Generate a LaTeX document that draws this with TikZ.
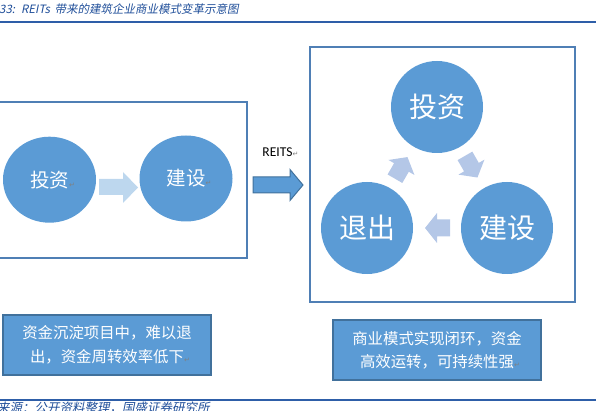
\documentclass[tikz,border=0pt]{standalone}
\usepackage{fontspec}
\setmainfont{Liberation Sans}
\newfontfamily\cjk{Noto Sans CJK SC}
\newfontfamily\cjkit{Noto Sans CJK SC}[FakeSlant=0.2]
\newfontfamily\lat{Carlito}
\newfontfamily\sym{DejaVu Sans}
\usetikzlibrary{shapes.geometric}
\definecolor{circblue}{HTML}{5B9BD5}
\definecolor{darkedge}{HTML}{41719C}
\definecolor{framecol}{HTML}{4F7FB5}
\definecolor{lightarr}{HTML}{BDD7EE}
\definecolor{cycarr}{HTML}{B4C7E7}
\definecolor{titleblue}{HTML}{1F4E99}
\definecolor{rulecol}{HTML}{2E5EA8}
\newcommand{\pmark}{\rlap{\sym\fontsize{7}{7}\selectfont\color{gray}↵}}
\tikzset{
  smallcirc/.style={ellipse, fill=circblue, inner sep=0pt, minimum width=93pt, minimum height=86pt,
    text=white, font=\cjk\fontsize{19.5}{20}\selectfont},
  bigcirc/.style={circle, fill=circblue, inner sep=0pt, minimum size=92pt,
    text=white, font=\cjk\fontsize{28}{30}\selectfont},
  framebox/.style={draw=framecol, line width=2pt},
  notebox/.style={rectangle, fill=circblue, draw=darkedge, line width=1.5pt, inner sep=0pt,
    minimum width=208pt, minimum height=60pt, text=white, align=center},
  cycarrow/.pic={\fill[cycarr] (-12.5,-8.5) -- (0.5,-8.5) -- (0.5,-15) -- (12.5,0) -- (0.5,15) -- (0.5,8.5) -- (-12.5,8.5) -- cycle;}
}
\begin{document}
\begin{tikzpicture}[x=1pt,y=1pt]
\useasboundingbox (0,0) rectangle (596,-411);
% header
\node[anchor=west, inner sep=0pt, text=titleblue, font=\cjkit\fontsize{11.5}{12}\selectfont] (title) at (-1,-9) {33:\hspace{6pt}REITs\hspace{2pt} 带来的建筑企业商业模式变革示意图};
\draw[rulecol, line width=2pt] (0,-22) -- (596,-22);
% left frame
\draw[framebox] (-5,-102) rectangle (247,-258);
\node[smallcirc] (inv1) at (49.5,-179.7) {投资\pmark};
\node[smallcirc] (con1) at (186,-178.5) {建设\pmark};
\fill[lightarr] (99,-179) -- (123,-179) -- (123,-172) -- (138,-187.5) -- (123,-203) -- (123,-195) -- (99,-195) -- cycle;
% REITS arrow
\node[font=\lat\fontsize{13.5}{14}\selectfont, inner sep=0pt] (reits) at (277.5,-152) {REITS\pmark};
\filldraw[fill=circblue, draw=darkedge, line width=1pt] (253,-177) -- (290,-177) -- (290,-169.5) -- (303,-185) -- (290,-200.5) -- (290,-193) -- (253,-193) -- cycle;
% right frame
\draw[framebox] (310,-47) rectangle (575,-302);
\node[bigcirc] (inv2) at (437,-107) {投资};
\node[bigcirc] (exit2) at (367,-228) {退出};
\node[bigcirc] (con2) at (507,-228) {建设};
\pic[rotate=60] at (401.2,-167.9) {cycarrow};
\pic[rotate=-60] at (471.2,-166.7) {cycarrow};
\pic[rotate=180] at (437.5,-228) {cycarrow};
% notes
\node[notebox, font=\cjk\fontsize{15.4}{24}\selectfont] (note1) at (107,-345) {资金沉淀项目中，难以退\\出，资金周转效率低下\pmark};
\node[notebox, font=\cjk\fontsize{15.4}{23}\selectfont] (note2) at (437,-350) {商业模式实现闭环，资金\\高效运转，可持续性强\pmark};
% footer
\draw[rulecol, line width=2pt] (0,-400) -- (596,-400);
\node[anchor=west, inner sep=0pt, text=titleblue, font=\cjkit\fontsize{12.5}{13}\selectfont] (source) at (-3,-407.5) {来源：公开资料整理，国盛证券研究所};
\end{tikzpicture}
\end{document}
